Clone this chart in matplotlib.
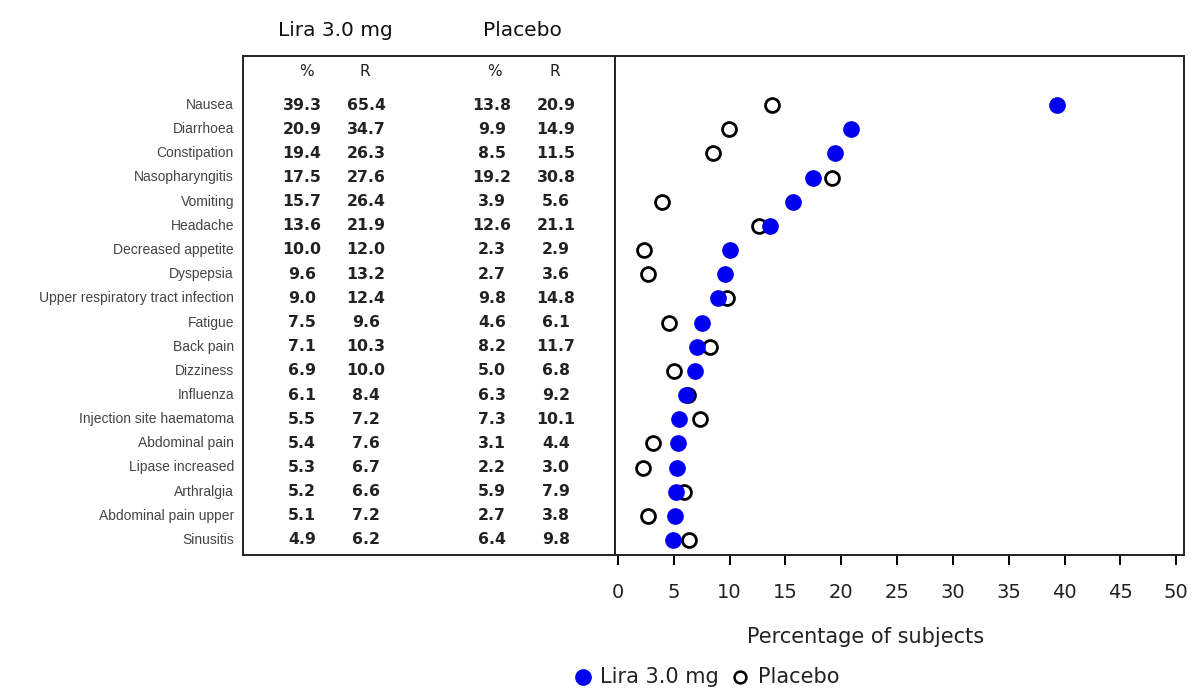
import numpy as np
import matplotlib
matplotlib.use('Agg')
import matplotlib.pyplot as plt

events = ['Nausea', 'Diarrhoea', 'Constipation', 'Nasopharyngitis', 'Vomiting',
          'Headache', 'Decreased appetite', 'Dyspepsia',
          'Upper respiratory tract infection', 'Fatigue', 'Back pain',
          'Dizziness', 'Influenza', 'Injection site haematoma',
          'Abdominal pain', 'Lipase increased', 'Arthralgia',
          'Abdominal pain upper', 'Sinusitis']
lira_pct = [39.3, 20.9, 19.4, 17.5, 15.7, 13.6, 10.0, 9.6, 9.0, 7.5, 7.1,
            6.9, 6.1, 5.5, 5.4, 5.3, 5.2, 5.1, 4.9]
lira_r = [65.4, 34.7, 26.3, 27.6, 26.4, 21.9, 12.0, 13.2, 12.4, 9.6, 10.3,
          10.0, 8.4, 7.2, 7.6, 6.7, 6.6, 7.2, 6.2]
plac_pct = [13.8, 9.9, 8.5, 19.2, 3.9, 12.6, 2.3, 2.7, 9.8, 4.6, 8.2,
            5.0, 6.3, 7.3, 3.1, 2.2, 5.9, 2.7, 6.4]
plac_r = [20.9, 14.9, 11.5, 30.8, 5.6, 21.1, 2.9, 3.6, 14.8, 6.1, 11.7,
          6.8, 9.2, 10.1, 4.4, 3.0, 7.9, 3.8, 9.8]
xticks = [0, 5, 10, 15, 20, 25, 30, 35, 40, 45, 50]

W, H = 1192, 690
fig = plt.figure(figsize=(W / 100, H / 100), dpi=100)

# layout in pixels (measured on the reference)
box_l, box_r, div = 243, 1184, 615
box_t, box_b = 56, 555
y_first, y_last = 105, 540
n = len(events)
step = (y_last - y_first) / (n - 1)
ylim = (n - 1 + (box_b - y_last) / step, -(y_first - box_t) / step)

tab = fig.add_axes([box_l / W, 1 - box_b / H, (div - box_l) / W, (box_b - box_t) / H])
ax = fig.add_axes([div / W, 1 - box_b / H, (box_r - div) / W, (box_b - box_t) / H])

# table part
tab.set_xlim(box_l, div)
tab.set_ylim(*ylim)
tab.set_xticks([])
tab.set_yticks([])
for s in tab.spines.values():
    s.set_linewidth(1.4)
    s.set_color('#222222')

rows = np.arange(n)
cols = [302, 366, 492, 556]
for i in rows:
    tab.text(234, i, events[i], ha='right', va='center', fontsize=10,
             family='Liberation Sans', color='#444444', clip_on=False)
    for cx, vals in zip(cols, [lira_pct, lira_r, plac_pct, plac_r]):
        tab.text(cx, i, '%.1f' % vals[i], ha='center', va='center',
                 fontsize=11.3, fontweight='bold', color='#222222')

hdr_y = -(y_first - 72) / step
for cx, t in zip([306, 365, 494, 555], ['%', 'R', '%', 'R']):
    tab.text(cx, hdr_y, t, ha='center', va='center', fontsize=11, color='#222222')
top_y = -(y_first - 31) / step
tab.text(335, top_y, 'Lira 3.0 mg', ha='center', va='center', fontsize=14.5,
         color='#111111', clip_on=False)
tab.text(522, top_y, 'Placebo', ha='center', va='center', fontsize=14.5,
         color='#111111', clip_on=False)

# dot plot part
ax.plot(plac_pct, rows, 'o', ms=10, mfc='white', mec='black', mew=2, zorder=3)
ax.plot(lira_pct, rows, 'o', ms=11, color='#0000ee', zorder=4)
ax.set_ylim(*ylim)
ax.set_xlim(-0.27, 50.7)
ax.set_yticks([])
ax.set_xticks(xticks)
ax.tick_params(axis='x', direction='out', length=7.5, width=1.4, labelsize=14,
               pad=13, labelcolor='#222222')
for s in ax.spines.values():
    s.set_linewidth(1.4)
    s.set_color('#222222')
fig.text(866 / W, 1 - 637 / H, 'Percentage of subjects', fontsize=15,
         ha='center', va='center', color='#222222')

# legend
ax.plot([583 / W], [1 - 677 / H], 'o', ms=11, color='#0000ee',
        transform=fig.transFigure, clip_on=False)
fig.text(600 / W, 1 - 677 / H, 'Lira 3.0 mg', fontsize=15, ha='left', va='center',
         color='#222222')
ax.plot([740 / W], [1 - 677 / H], 'o', ms=8.5, mfc='white', mec='black', mew=1.8,
        transform=fig.transFigure, clip_on=False)
fig.text(758 / W, 1 - 677 / H, 'Placebo', fontsize=15, ha='left', va='center',
         color='#222222')

fig.savefig('out.png', dpi=100)
